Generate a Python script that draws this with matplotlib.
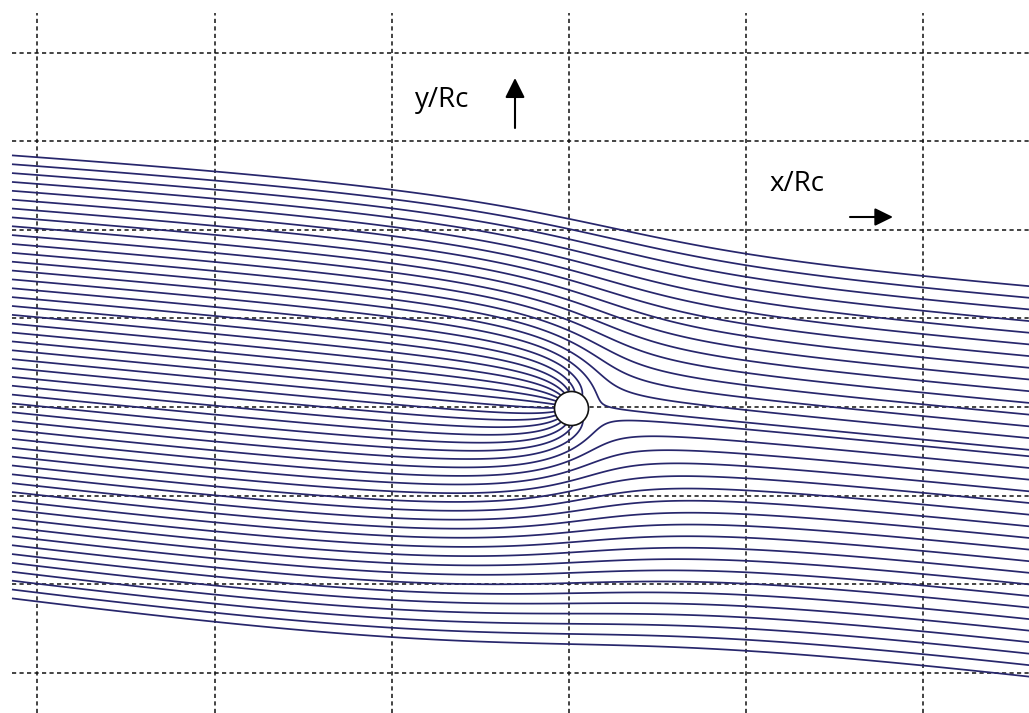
import numpy as np
import matplotlib
matplotlib.use("Agg")
import matplotlib.pyplot as plt

plt.rcParams['lines.scale_dashes'] = False

# размеры картинки в пикселях и положение скважины
W_PX, H_PX = 1029, 713
WELL_PX = (569, 407)
PX_PER_UNIT = 88.6

# параметры потока: наклон, мощность стока, удалённость "источника" (слабое расхождение потока)
FLOW_ANGLE_DEG = 5.5
SINK_Q = 0.30        # Q / (2*pi*U)
SOURCE_DIST = 67.0

# сетка
grid_x = [-6, -4, -2, 0, 2, 4]
grid_y = [4, 3, 2, 1, 0, -1, -2, -3]

# начальные точки линий тока на левом краю (y/Rc)
seed_x = -6.287
seed_y = [2.84, 2.74, 2.64, 2.54, 2.44, 2.34, 2.24, 2.14, 2.04, 1.94,
          1.84, 1.74, 1.64, 1.54, 1.44, 1.34, 1.24, 1.14, 1.04, 0.94,
          0.84, 0.74, 0.64, 0.54, 0.44, 0.34, 0.24, 0.14, 0.04, -0.06,
          -0.16, -0.26, -0.36, -0.46, -0.56, -0.66, -0.76, -0.86, -0.96, -1.06,
          -1.16, -1.26, -1.36, -1.46, -1.56, -1.66, -1.76, -1.86, -1.96, -2.06,
          -2.16]

LINE_COLOR = '#27266c'
FONT = ['Open Sans', 'DejaVu Sans']


def stream_function(x, y):
    # поворот в систему, где основной поток идёт вдоль x'
    a = np.radians(FLOW_ANGLE_DEG)
    xr = x * np.cos(a) - y * np.sin(a)
    yr = x * np.sin(a) + y * np.cos(a)
    base = SOURCE_DIST * np.arctan2(yr, xr + SOURCE_DIST)
    return base - SINK_Q * np.arctan2(yr, xr), yr


x_lim = (-WELL_PX[0] / PX_PER_UNIT, (W_PX - WELL_PX[0]) / PX_PER_UNIT)
y_lim = ((WELL_PX[1] - H_PX) / PX_PER_UNIT, WELL_PX[1] / PX_PER_UNIT)

fig = plt.figure(figsize=(W_PX / 100, H_PX / 100), dpi=100)
ax = fig.add_axes([0, 0, 1, 1])
ax.set_xlim(*x_lim)
ax.set_ylim(*y_lim)
ax.axis('off')

# сетка (пунктир)
y_top = (WELL_PX[1] - 13) / PX_PER_UNIT
for gx in grid_x:
    ax.plot([gx, gx], [y_lim[0], y_top], color='#111111', lw=1.1,
            dashes=(3, 2.4), zorder=1)
for gy in grid_y:
    ax.plot([seed_x, x_lim[1]], [gy, gy], color='#111111', lw=1.1,
            dashes=(3, 2.4), zorder=1)

# линии тока: изолинии функции тока, отдельно выше и ниже оси потока
xs = np.linspace(seed_x, x_lim[1] + 0.05, 1500)
ys = np.linspace(y_lim[0], y_lim[1], 1100)
X, Y = np.meshgrid(xs, ys)
PSI, YR = stream_function(X, Y)

sx = np.full(len(seed_y), seed_x)
levels, seed_yr = stream_function(sx, np.array(seed_y))
upper = np.sort(levels[seed_yr >= 0])
lower = np.sort(levels[seed_yr < 0])

psi_up = np.ma.masked_where(YR < 0, PSI)
psi_lo = np.ma.masked_where(YR >= 0, PSI)
ax.contour(X, Y, psi_up, levels=upper, colors=LINE_COLOR,
           linewidths=1.25, linestyles='solid', zorder=2)
ax.contour(X, Y, psi_lo, levels=lower, colors=LINE_COLOR,
           linewidths=1.25, linestyles='solid', zorder=2)

# скважина
ax.plot([0.02], [-0.01], marker='o', ms=24.5, mfc='white', mec='#111111',
        mew=1.2, zorder=5)

# подписи осей и стрелки
fig.text(415 / W_PX, 1 - 107 / H_PX, 'y/Rc', fontsize=20,
         family=FONT, va='baseline', ha='left')
fig.text(769 / W_PX, 1 - 191 / H_PX, 'x/Rc', fontsize=20,
         family=FONT, va='baseline', ha='left')
ax.annotate('', xy=(515, H_PX - 78), xytext=(515, H_PX - 128),
            xycoords='figure pixels', textcoords='figure pixels',
            arrowprops=dict(arrowstyle='-|>,head_length=0.6,head_width=0.3',
                            mutation_scale=20, color='black', lw=1.5,
                            shrinkA=0, shrinkB=0))
ax.annotate('', xy=(893, H_PX - 217), xytext=(850, H_PX - 217),
            xycoords='figure pixels', textcoords='figure pixels',
            arrowprops=dict(arrowstyle='-|>,head_length=0.55,head_width=0.27',
                            mutation_scale=20, color='black', lw=1.5,
                            shrinkA=0, shrinkB=0))

fig.savefig('out.png', dpi=100, facecolor='white')
